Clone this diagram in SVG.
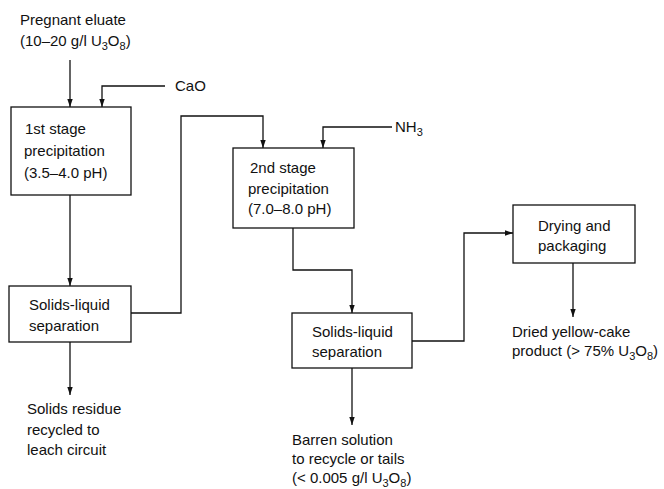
<svg xmlns="http://www.w3.org/2000/svg" width="664" height="489" viewBox="0 0 664 489">
<style>
text{font-family:"Liberation Sans",Arial,sans-serif;font-size:15px;fill:#111}
.b{fill:#fff;stroke:#111;stroke-width:1.3}
.c{fill:none;stroke:#111;stroke-width:1.3}
.s{font-size:11px}
</style>
<defs>
<marker id="a" viewBox="0 0 8 8" refX="8" refY="4" markerWidth="8" markerHeight="8" markerUnits="userSpaceOnUse" orient="auto">
<path d="M0,1.3 L8,4 L0,6.7 Z" fill="#111"/>
</marker>
</defs>
<rect width="664" height="489" fill="#fff"/>
<g id="connectors">
<path class="c" d="M70,60 V107" marker-end="url(#a)"/>
<path class="c" d="M165,86 H102 V107" marker-end="url(#a)"/>
<path class="c" d="M70,195 V286" marker-end="url(#a)"/>
<path class="c" d="M70,342 V395" marker-end="url(#a)"/>
<path class="c" d="M131,313 H181 V116 H263 V148" marker-end="url(#a)"/>
<path class="c" d="M392,127 H323 V148" marker-end="url(#a)"/>
<path class="c" d="M293,228 V270 H352 V313" marker-end="url(#a)"/>
<path class="c" d="M352,368 V425" marker-end="url(#a)"/>
<path class="c" d="M412,341 H464 V233 H513" marker-end="url(#a)"/>
<path class="c" d="M573,263 V317" marker-end="url(#a)"/>
</g>
<g id="feed">
<text x="20" y="25">Pregnant eluate</text>
<text x="20" y="46">(10–20 g/l U<tspan class="s" dy="4">3</tspan><tspan dy="-4">O</tspan><tspan class="s" dy="4">8</tspan><tspan dy="-4">)</tspan></text>
</g>
<g id="cao"><text x="175" y="91">CaO</text></g>
<g id="nh3"><text x="395" y="132">NH<tspan class="s" dy="4">3</tspan></text></g>
<g id="stage1">
<rect class="b" x="11" y="107" width="120" height="88"/>
<text x="25" y="134">1st stage</text>
<text x="24" y="156">precipitation</text>
<text x="24" y="178">(3.5–4.0 pH)</text>
</g>
<g id="sep1">
<rect class="b" x="9" y="286" width="122" height="56"/>
<text x="29" y="310">Solids-liquid</text>
<text x="29" y="331">separation</text>
</g>
<g id="residue">
<text x="27" y="414">Solids residue</text>
<text x="27" y="435">recycled to</text>
<text x="27" y="455">leach circuit</text>
</g>
<g id="stage2">
<rect class="b" x="233" y="148" width="121" height="80"/>
<text x="250" y="173">2nd stage</text>
<text x="248" y="194">precipitation</text>
<text x="248" y="214">(7.0–8.0 pH)</text>
</g>
<g id="sep2">
<rect class="b" x="292" y="313" width="120" height="55"/>
<text x="312" y="337">Solids-liquid</text>
<text x="312" y="357">separation</text>
</g>
<g id="barren">
<text x="292" y="445">Barren solution</text>
<text x="292" y="464">to recycle or tails</text>
<text x="292" y="483">(&lt; 0.005 g/l U<tspan class="s" dy="4">3</tspan><tspan dy="-4">O</tspan><tspan class="s" dy="4">8</tspan><tspan dy="-4">)</tspan></text>
</g>
<g id="drying">
<rect class="b" x="513" y="205" width="122" height="58"/>
<text x="538" y="231">Drying and</text>
<text x="538" y="251">packaging</text>
</g>
<g id="product">
<text x="512" y="337">Dried yellow-cake</text>
<text x="512" y="356">product (&gt; 75% U<tspan class="s" dy="4">3</tspan><tspan dy="-4">O</tspan><tspan class="s" dy="4">8</tspan><tspan dy="-4">)</tspan></text>
</g>
</svg>
